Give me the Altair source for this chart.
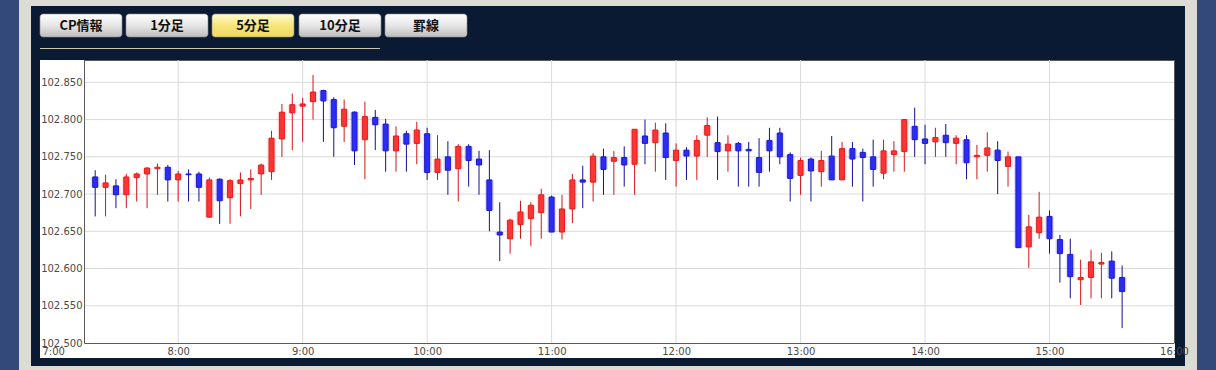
import altair as alt
import pandas as pd

# ---------------- data (5-minute candles, 7:20 - 15:35) ----------------
start_minute = 7 * 60 + 20
step_minutes = 5
opens = [102.723, 102.709, 102.711, 102.699, 102.722, 102.727, 102.734, 102.736, 102.719, 102.727,
         102.727, 102.669, 102.720, 102.695, 102.714, 102.719, 102.727, 102.730, 102.774, 102.809,
         102.818, 102.824, 102.839, 102.827, 102.791, 102.810, 102.773, 102.803, 102.794, 102.758,
         102.781, 102.768, 102.781, 102.729, 102.750, 102.734, 102.764, 102.747, 102.719, 102.649,
         102.640, 102.659, 102.667, 102.675, 102.696, 102.649, 102.680, 102.719, 102.716, 102.750,
         102.744, 102.749, 102.740, 102.778, 102.769, 102.782, 102.745, 102.759, 102.751, 102.779,
         102.769, 102.758, 102.768, 102.760, 102.749, 102.772, 102.782, 102.753, 102.725, 102.747,
         102.730, 102.751, 102.719, 102.761, 102.756, 102.750, 102.728, 102.753, 102.757, 102.791,
         102.774, 102.770, 102.779, 102.768, 102.773, 102.750, 102.752, 102.759, 102.737, 102.750,
         102.629, 102.648, 102.670, 102.639, 102.619, 102.585, 102.588, 102.606, 102.610, 102.588]
highs = [102.732, 102.726, 102.720, 102.727, 102.729, 102.736, 102.741, 102.739, 102.731, 102.733,
         102.730, 102.722, 102.721, 102.720, 102.729, 102.733, 102.741, 102.785, 102.821, 102.835,
         102.829, 102.860, 102.840, 102.830, 102.827, 102.811, 102.824, 102.813, 102.801, 102.791,
         102.785, 102.797, 102.789, 102.779, 102.771, 102.767, 102.767, 102.758, 102.759, 102.689,
         102.667, 102.691, 102.689, 102.707, 102.698, 102.699, 102.727, 102.738, 102.755, 102.761,
         102.758, 102.764, 102.787, 102.800, 102.796, 102.795, 102.768, 102.763, 102.779, 102.803,
         102.804, 102.779, 102.770, 102.770, 102.775, 102.789, 102.789, 102.756, 102.749, 102.749,
         102.758, 102.778, 102.770, 102.770, 102.761, 102.773, 102.773, 102.771, 102.800, 102.816,
         102.793, 102.789, 102.794, 102.779, 102.779, 102.766, 102.783, 102.771, 102.757, 102.750,
         102.672, 102.703, 102.678, 102.645, 102.640, 102.612, 102.625, 102.621, 102.623, 102.604]
lows = [102.670, 102.670, 102.681, 102.681, 102.690, 102.681, 102.699, 102.690, 102.690, 102.690,
        102.690, 102.668, 102.660, 102.660, 102.670, 102.680, 102.699, 102.719, 102.750, 102.759,
        102.770, 102.800, 102.770, 102.750, 102.770, 102.739, 102.720, 102.759, 102.730, 102.730,
        102.730, 102.740, 102.719, 102.719, 102.699, 102.690, 102.710, 102.699, 102.650, 102.610,
        102.620, 102.640, 102.630, 102.640, 102.649, 102.639, 102.661, 102.681, 102.690, 102.699,
        102.699, 102.710, 102.699, 102.740, 102.730, 102.719, 102.710, 102.719, 102.719, 102.750,
        102.719, 102.730, 102.710, 102.710, 102.710, 102.730, 102.740, 102.690, 102.699, 102.690,
        102.710, 102.719, 102.719, 102.710, 102.690, 102.710, 102.720, 102.730, 102.730, 102.750,
        102.740, 102.750, 102.750, 102.740, 102.720, 102.720, 102.730, 102.700, 102.710, 102.628,
        102.601, 102.640, 102.620, 102.581, 102.560, 102.551, 102.560, 102.560, 102.560, 102.520]
closes = [102.709, 102.715, 102.699, 102.723, 102.727, 102.735, 102.736, 102.719, 102.727, 102.726,
          102.709, 102.719, 102.691, 102.718, 102.719, 102.721, 102.739, 102.775, 102.810, 102.820,
          102.821, 102.837, 102.825, 102.789, 102.814, 102.758, 102.804, 102.793, 102.758, 102.778,
          102.767, 102.786, 102.729, 102.747, 102.732, 102.764, 102.745, 102.739, 102.678, 102.645,
          102.665, 102.676, 102.685, 102.699, 102.649, 102.680, 102.719, 102.716, 102.751, 102.733,
          102.749, 102.739, 102.787, 102.768, 102.786, 102.749, 102.759, 102.751, 102.772, 102.792,
          102.757, 102.767, 102.758, 102.758, 102.729, 102.758, 102.750, 102.721, 102.745, 102.731,
          102.745, 102.719, 102.761, 102.747, 102.749, 102.733, 102.758, 102.758, 102.800, 102.773,
          102.768, 102.776, 102.769, 102.775, 102.742, 102.752, 102.762, 102.745, 102.750, 102.628,
          102.656, 102.669, 102.640, 102.620, 102.589, 102.588, 102.609, 102.608, 102.587, 102.569]

y_ticks = [102.50, 102.55, 102.60, 102.65, 102.70, 102.75, 102.80, 102.85]
x_hours = [8, 9, 10, 11, 12, 13, 14, 15, 16]
first_label_hour = 7
buttons = ["CP情報", "1分足", "5分足", "10分足", "罫線"]
active_button = "5分足"

df = pd.DataFrame({
    "t": [start_minute + step_minutes * i for i in range(len(opens))],
    "open": opens, "high": highs, "low": lows, "close": closes,
})

# ---------------- layout ----------------
W, H = 1090, 283          # plot area
PL, PT, PR, PB = 84, 60, 42, 27
NAVY = "#0b1a33"
SLATE = "#32497a"
LIGHT = "#dcdcd4"
LBL = "#4a4a4a"
AXC = "#5a5a5a"
GRID = "#dadada"

XS = alt.Scale(domain=[434.6, 960], zero=False, nice=False, padding=0)
YS = alt.Scale(domain=[102.5, 102.88], zero=False, nice=False, padding=0)
X_AX = alt.Axis(values=[h * 60 for h in x_hours], labelExpr="floor(datum.value/60) + ':00'",
                grid=False, ticks=False, domain=True, domainColor=AXC, labelColor=LBL,
                labelFont="DejaVu Sans", labelFontSize=10, labelPadding=3, labelFlush=False,
                labelOverlap=False, title=None, zindex=1)
Y_AX = alt.Axis(values=y_ticks, format=".3f", grid=False, ticks=False, domain=True,
                domainColor=AXC, labelColor=LBL, labelFont="DejaVu Sans", labelFontSize=10,
                labelPadding=2, labelOverlap=False, title=None, zindex=1)

one = pd.DataFrame({"k": [0]})


def rect(x1, y1, x2, y2, **mk):
    return alt.Chart(one).mark_rect(**mk).encode(
        x=alt.value(x1 - PL), x2=alt.value(x2 - PL),
        y=alt.value(y1 - PT), y2=alt.value(y2 - PT))


layers = []
# outer frame
layers.append(rect(0, 0, 19, 370, color=SLATE))
layers.append(rect(1197, 0, 1216, 370, color=SLATE))
layers.append(rect(19, 0, 1197, 6, color=LIGHT))
layers.append(rect(19, 366, 1197, 370, color=LIGHT))
layers.append(rect(19, 0, 31, 370, color=LIGHT))
layers.append(rect(1185, 0, 1197, 370, color=LIGHT))
# white label strips around the plot
layers.append(rect(40, 60, 84, 358, color="white"))
layers.append(rect(40, 343, 1175, 358, color="white"))

# buttons
bx = [40, 126, 212, 299, 385]
for lab, x0 in zip(buttons, bx):
    if lab == active_button:
        stops = [alt.GradientStop(color="#fffbd0", offset=0), alt.GradientStop(color="#f7e57a", offset=0.5),
                 alt.GradientStop(color="#efd860", offset=1)]
    else:
        stops = [alt.GradientStop(color="#ffffff", offset=0), alt.GradientStop(color="#e6e6e6", offset=0.5),
                 alt.GradientStop(color="#bdbdbd", offset=1)]
    grad = alt.LinearGradient(gradient="linear", stops=stops, x1=0, x2=0, y1=0, y2=1)
    layers.append(rect(x0, 14, x0 + 82, 37, color=grad, cornerRadius=3, stroke="#8a8a8a", strokeWidth=0.6))
    layers.append(alt.Chart(one).mark_text(font="Noto Sans CJK JP", fontWeight="bold", fontSize=13,
                                           color="#111111", align="center", baseline="middle").encode(
        x=alt.value(x0 + 41 - PL), y=alt.value(25.5 - PT), text=alt.value(lab)))
layers.append(alt.Chart(one).mark_rule(color="#c9c7b4", strokeWidth=1).encode(
    x=alt.value(40 - PL), x2=alt.value(380 - PL), y=alt.value(48.5 - PT)))

# gridlines
gy = pd.DataFrame({"v": y_ticks[1:]})
gx = pd.DataFrame({"m": [h * 60 for h in x_hours[:-1]]})
layers.append(alt.Chart(gy).mark_rule(color=GRID, strokeWidth=1).encode(
    y=alt.Y("v:Q", scale=YS, axis=Y_AX), x=alt.value(0), x2=alt.value(W)))
layers.append(alt.Chart(gx).mark_rule(color=GRID, strokeWidth=1).encode(
    x=alt.X("m:Q", scale=XS, axis=X_AX), y=alt.value(0), y2=alt.value(H)))

up = "datum.close >= datum.open"
base = alt.Chart(df)
wicks = base.mark_rule(strokeWidth=1).encode(
    x=alt.X("t:Q", scale=XS, axis=X_AX),
    y=alt.Y("low:Q", scale=YS, axis=Y_AX), y2="high:Q",
    color=alt.condition(up, alt.value("#d41515"), alt.value("#10109a")))
halo = base.mark_bar(size=9, opacity=0.16).encode(
    x=alt.X("t:Q", scale=XS, axis=X_AX),
    y=alt.Y("open:Q", scale=YS, axis=Y_AX), y2="close:Q",
    color=alt.condition(up, alt.value("#ff5050"), alt.value("#4040ff")))
bodies = base.mark_bar(size=5, strokeWidth=1).encode(
    x=alt.X("t:Q", scale=XS, axis=X_AX),
    y=alt.Y("open:Q", scale=YS, axis=Y_AX), y2="close:Q",
    color=alt.condition(up, alt.value("#fb3434"), alt.value("#2c2cf6")),
    stroke=alt.condition(up, alt.value("#e31c1c"), alt.value("#1b1bc8")))
layers += [wicks, halo, bodies]

# first time label (left of the plot)
first = pd.DataFrame({"m": [first_label_hour * 60], "lab": [f"{first_label_hour}:00"]})
layers.append(alt.Chart(first).mark_text(font="DejaVu Sans", fontSize=10, color=LBL,
                                         align="center", baseline="top").encode(
    x=alt.X("m:Q", scale=XS, axis=X_AX), y=alt.value(H + 4), text="lab:N"))

chart = alt.layer(*layers).properties(
    width=W, height=H,
    padding={"left": PL, "top": PT, "right": PR, "bottom": PB},
    autosize=alt.AutoSizeParams(type="none"),
).configure(background=NAVY).configure_view(fill="white", stroke=AXC, strokeWidth=1)

chart.save("out.html", embed_options={"renderer": "svg", "actions": False})
